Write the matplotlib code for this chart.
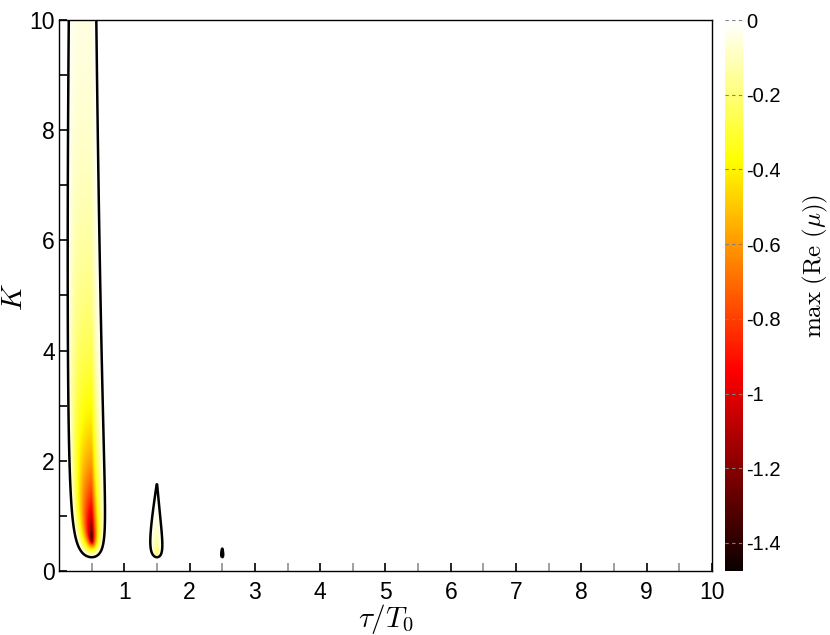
import numpy as np
import matplotlib
matplotlib.use("Agg")
import matplotlib.pyplot as plt

plt.rcParams["font.family"] = ["Liberation Sans", "DejaVu Sans"]
plt.rcParams["mathtext.fontset"] = "cm"
plt.rcParams["axes.unicode_minus"] = False

# unstable focus lambda + i*omega under delayed feedback K*(x(t) - x(t - tau))
lam = 0.5
omega = 1.5 * np.pi
T0 = 2 * np.pi / omega

# grid of the map (tau in units of T0)
tau_lim = [0.0, 10.0]
K_lim = [0.0, 10.0]
n_tau, n_K = 1400, 800

# colour range
re_min = -1.475
re_max = 0.0

xticks = [1, 2, 3, 4, 5, 6, 7, 8, 9, 10]
xminor = [0.5, 1.5, 2.5, 3.5, 4.5, 5.5, 6.5, 7.5, 8.5, 9.5]
yticks = [0, 2, 4, 6, 8, 10]
yminor = [1, 3, 5, 7, 9]
cticks = [0, -0.2, -0.4, -0.6, -0.8, -1.0, -1.2, -1.4]
ctick_labels = ["0", "-0.2", "-0.4", "-0.6", "-0.8", "-1", "-1.2", "-1.4"]


def lambertw0(z, iters=50):
    # principal branch of Lambert W, Halley iterations
    z = np.asarray(z, dtype=complex)
    with np.errstate(all="ignore"):
        L = np.log(z)
        w = L - np.log(L)
        small = np.abs(z) < 1.0
        w = np.where(small, z / (1 + z), w)
        p = np.sqrt(2 * (np.e * z + 1))
        near = np.abs(z + 1 / np.e) < 0.8
        w = np.where(near, -1 + p - p * p / 3 + 11.0 / 72 * p ** 3, w)
        for _ in range(iters):
            ew = np.exp(w)
            f = w * ew - z
            step = f / (ew * (w + 1) - (w + 2) * f / (2 * w + 2))
            step = np.where(np.isfinite(step), step, 0)
            w = w - step
    return w


tt = np.linspace(tau_lim[0] + 0.002, tau_lim[1], n_tau)
kk = np.linspace(K_lim[0] + 0.002, K_lim[1], n_K)
TT, KK = np.meshgrid(tt, kk)
tau = TT * T0
arg = KK * tau * np.exp((KK - lam - 1j * omega) * tau)
W = lambertw0(arg)
re_mu = lam - KK + W.real / tau

fig = plt.figure(figsize=(8.3, 6.35), dpi=100)
ax = fig.add_axes([0.0711, 0.1008, 0.7867, 0.8677])

ax.imshow(re_mu, origin="lower", extent=[tau_lim[0], tau_lim[1], K_lim[0], K_lim[1]],
          aspect="auto", cmap="hot", vmin=re_min, vmax=re_max, interpolation="bilinear")
ax.contour(TT, KK, re_mu, levels=[0], colors="k", linewidths=1.8)

ax.set_xlim(tau_lim)
ax.set_ylim(K_lim)
ax.set_xticks(xticks)
ax.set_xticks(xminor, minor=True)
ax.set_yticks(yticks)
ax.set_yticks(yminor, minor=True)
ax.tick_params(which="both", direction="in", labelsize=16.5)
ax.tick_params(axis="x", which="major", length=6, width=1.2, pad=7)
ax.tick_params(axis="x", which="minor", length=6, width=1.2, color="#909090")
ax.tick_params(axis="y", which="both", length=6, width=1.2, pad=3)
for s in ax.spines.values():
    s.set_linewidth(1.0)

ax.set_xlabel(r"$\tau/T_0$", fontsize=21, va="center")
ax.xaxis.set_label_coords(0.5, -0.087)
ax.set_ylabel(r"$K$", fontsize=21, va="center")
ax.yaxis.set_label_coords(-0.069, 0.497)

cax = fig.add_axes([0.8735, 0.1008, 0.0217, 0.8677])
sm = plt.cm.ScalarMappable(cmap="hot", norm=plt.Normalize(re_min, re_max))
cb = fig.colorbar(sm, cax=cax)
cb.outline.set_visible(False)
cb.set_ticks(cticks)
cb.set_ticklabels(ctick_labels)
cax.tick_params(direction="in", length=0, labelsize=14.5, pad=2)
for v in cticks:
    cax.axhline(v, color="#808080", lw=0.8, ls=(0, (3, 3)))
cb.set_label(r"$\max\ (\mathrm{Re}\ (\mu))$", fontsize=18, va="center")
cax.yaxis.set_label_coords(5.0, 0.554)

fig.savefig("out.png", dpi=100)
